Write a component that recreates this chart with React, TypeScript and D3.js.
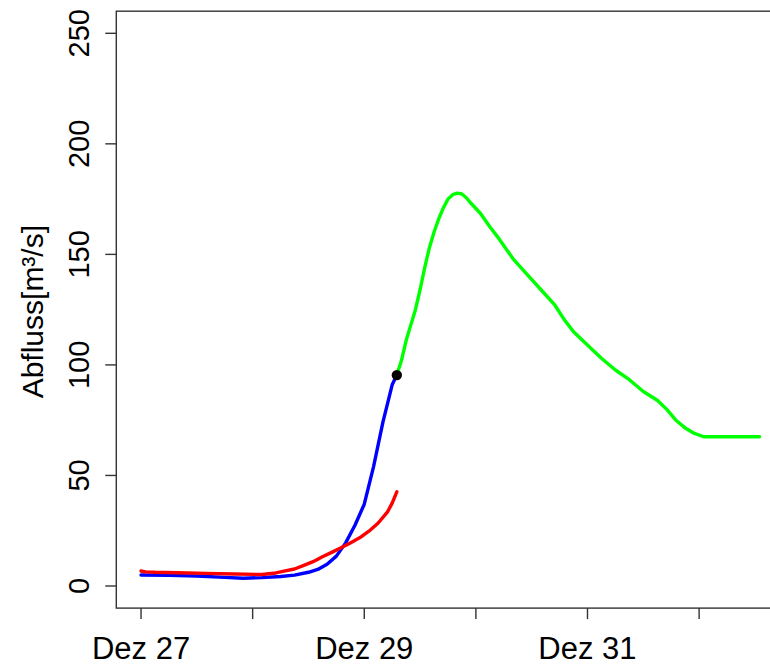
import React from "react";
import * as d3 from "d3";

// hours after Dez 27 00:00 (UTC)
const START = Date.UTC(2020, 11, 27, 0, 0);

const blueHours = [0, 6, 12, 18, 22, 26, 30, 33, 36, 38, 40, 42, 44, 46, 48, 50, 52, 54, 55];
const blueValues = [5.0, 4.8, 4.5, 3.9, 3.5, 3.8, 4.3, 4.9, 6.2, 7.5, 9.8, 13.5, 19.5, 27.5, 37, 54, 74, 91, 95.4];

const redHours = [0, 1, 3, 8, 14, 20, 26, 29, 31, 33, 35, 37, 39, 41, 43, 45, 47, 49, 51, 53, 54, 55];
const redValues = [6.8, 6.4, 6.2, 6.0, 5.7, 5.4, 5.2, 5.9, 6.8, 7.7, 9.3, 11, 13.2, 15.2, 17.3, 19.5, 21.8, 24.8, 28.5, 33.5, 37.5, 42.6];

const greenHours = [55, 56, 57, 58, 59, 60, 61, 62, 63, 64, 65, 66, 67, 68, 69, 70, 71, 73, 75, 77, 80, 83, 86, 89, 91, 93, 97, 99, 102, 105, 108, 111, 113, 115, 117, 119, 121, 133];
const greenValues = [95.4, 102, 111, 118, 125, 134, 144, 153, 160, 166, 171, 175, 177, 177.7, 177.3, 175.5, 173, 168.5, 162.5, 157, 148, 141, 134, 127, 120.5, 115, 107, 103, 97.7, 93.3, 88, 84, 80, 75, 71.5, 69, 67.5, 67.5];

const nowHour = 55;
const nowValue = 95.4;

const xTickDays = [0, 1, 2, 3, 4, 5];
const xTickLabels = ["Dez 27", "", "Dez 29", "", "Dez 31", ""];
const yTicks = [0, 50, 100, 150, 200, 250];

const FONT = "'Liberation Sans', Arial, Helvetica, sans-serif";

const toDate = (h: number) => new Date(START + h * 3600 * 1000);

const App = () => {
  const width = 770;
  const height = 667;
  const box = { left: 116.3, right: 784.3, top: 11.2, bottom: 608.1 };

  // R style 4% axis extension
  const hMin = 0;
  const hMax = 133;
  const pad = (hMax - hMin) * 0.04;
  const x = d3
    .scaleUtc()
    .domain([toDate(hMin - pad), toDate(hMax + pad)])
    .range([box.left, box.right]);
  const y = d3.scaleLinear().domain([-10, 260]).range([box.bottom, box.top]);

  const line = d3
    .line<[number, number]>()
    .x((d) => x(toDate(d[0])))
    .y((d) => y(d[1]));

  const series = [
    { hours: blueHours, values: blueValues, color: "#0000ff" },
    { hours: redHours, values: redValues, color: "#ff0000" },
    { hours: greenHours, values: greenValues, color: "#00ff00" },
  ];

  return (
    <svg
      width={width}
      height={height}
      style={{ position: "absolute", left: 0, top: 0, background: "#fff" }}
      fontFamily={FONT}
    >
      <defs>
        <clipPath id="plot-clip">
          <rect x={box.left} y={box.top} width={box.right - box.left} height={box.bottom - box.top} />
        </clipPath>
      </defs>

      {/* data */}
      <g clipPath="url(#plot-clip)">
        {series.map((s, i) => (
          <path
            key={i}
            d={line(s.hours.map((h, j) => [h, s.values[j]] as [number, number])) || ""}
            fill="none"
            stroke={s.color}
            strokeWidth={3.4}
            strokeLinejoin="round"
            strokeLinecap="round"
          />
        ))}
        <circle cx={x(toDate(nowHour))} cy={y(nowValue)} r={5.2} fill="#000" />
      </g>

      {/* box */}
      <rect
        x={box.left}
        y={box.top}
        width={box.right - box.left}
        height={box.bottom - box.top}
        fill="none"
        stroke="#333"
        strokeWidth={1.4}
      />

      {/* x axis */}
      {xTickDays.map((d, i) => {
        const px = x(toDate(d * 24));
        return (
          <g key={d}>
            <line x1={px} x2={px} y1={box.bottom} y2={box.bottom + 11} stroke="#333" strokeWidth={1.4} />
            {xTickLabels[i] && (
              <text x={px} y={659} textAnchor="middle" fontSize={31} fill="#000">
                {xTickLabels[i]}
              </text>
            )}
          </g>
        );
      })}

      {/* y axis */}
      {yTicks.map((v) => {
        const py = y(v);
        return (
          <g key={v}>
            <line x1={box.left - 11} x2={box.left} y1={py} y2={py} stroke="#333" strokeWidth={1.4} />
            <text
              transform={`translate(89,${py}) rotate(-90)`}
              textAnchor="middle"
              fontSize={29}
              fill="#000"
            >
              {v}
            </text>
          </g>
        );
      })}
      <text
        transform={`translate(43,${(box.top + box.bottom) / 2 + 2}) rotate(-90)`}
        textAnchor="middle"
        fontSize={30}
        fill="#000"
      >
        Abfluss[m³/s]
      </text>
    </svg>
  );
};

export default App;
